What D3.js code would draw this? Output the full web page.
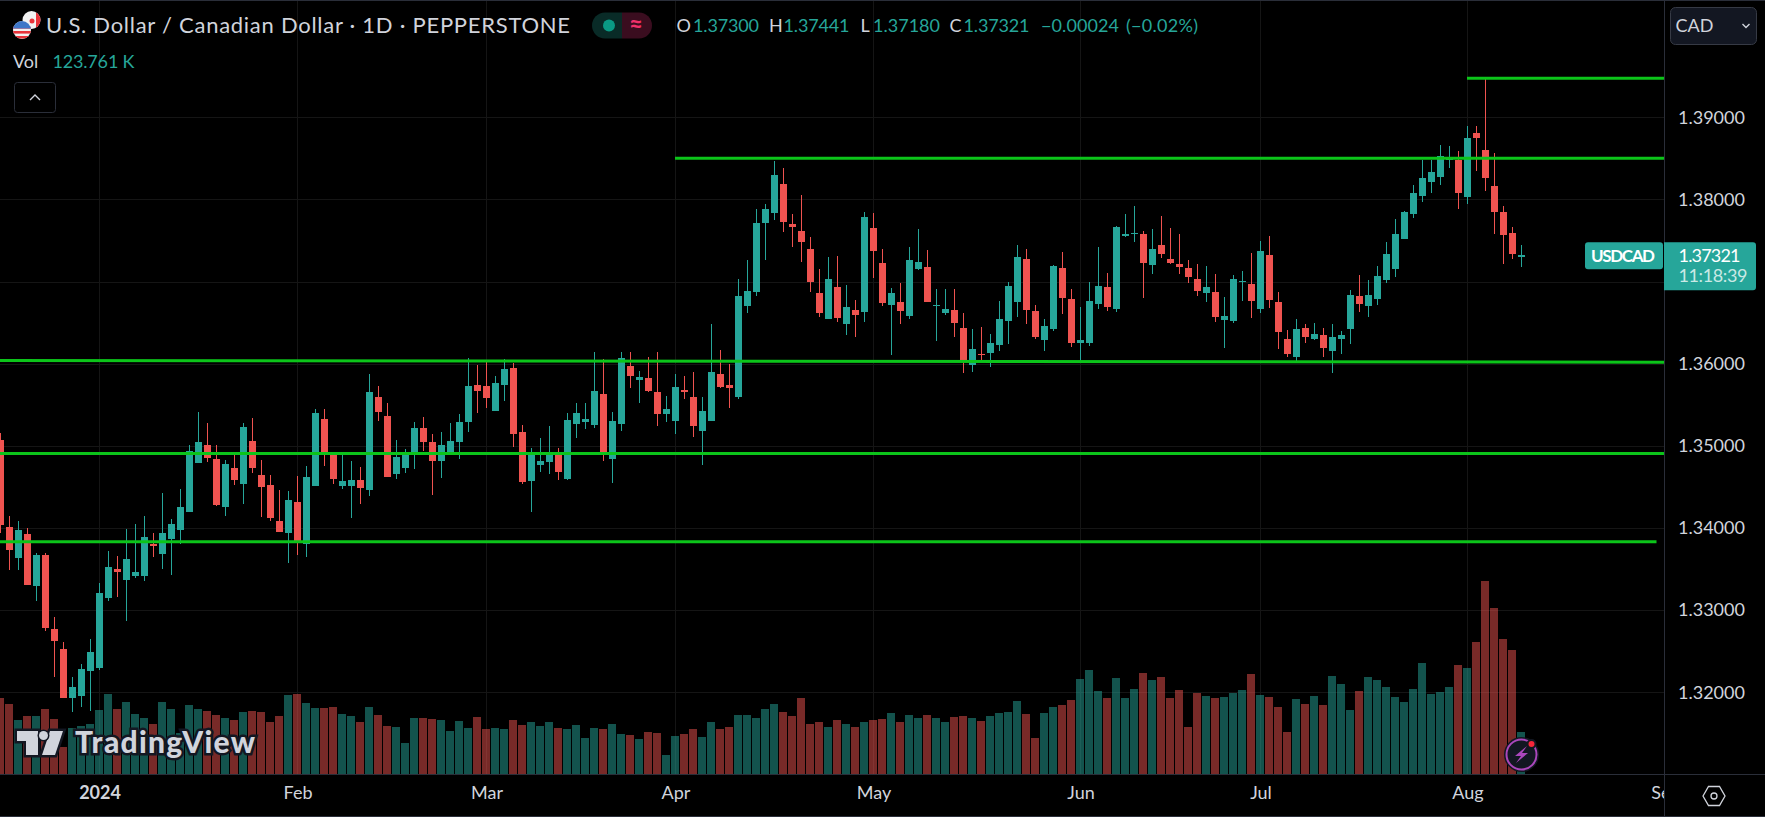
<!DOCTYPE html>
<html>
<head>
<meta charset="utf-8">
<script src="https://cdn.jsdelivr.net/npm/d3@7"></script>
<style>
  html, body { margin: 0; padding: 0; background: #000; overflow: hidden; }
  svg { display: block; }
  text { font-family: Lato, "Open Sans", sans-serif; }
</style>
</head>
<body>
<svg class="chart"></svg>
<script>
// Values, one entry per daily bar
const opens = [1.35077,1.34016,1.33638,1.33930,1.33296,1.33674,1.32772,1.32528,1.31930,1.31955,1.32260,1.32296,1.33150,1.33504,1.33369,1.33418,1.33418,1.33808,1.33686,1.33869,
  1.33979,1.34199,1.34796,1.35016,1.34845,1.34260,1.34735,1.34540,1.35065,1.34650,1.34528,1.34089,1.33943,1.34321,1.33808,1.34516,1.35333,1.34918,1.34516,1.34516,
  1.34589,1.34467,1.35601,1.35369,1.34662,1.34735,1.34894,1.35223,1.35052,1.34821,1.34894,1.35052,1.35296,1.35735,1.35723,1.35430,1.35747,1.35943,1.35174,1.34577,
  1.34772,1.34808,1.34906,1.34601,1.35272,1.35296,1.35260,1.35626,1.34845,1.35272,1.35967,1.35808,1.35821,1.35650,1.35382,1.35308,1.35686,1.35601,1.35186,1.35308,
  1.35869,1.35735,1.35601,1.36700,1.36870,1.37712,1.37834,1.38187,1.37700,1.37614,1.37395,1.36858,1.36541,1.36931,1.36480,1.36651,1.36626,1.37651,1.37224,1.36712,
  1.36748,1.36578,1.37151,1.37175,1.36700,1.36614,1.36651,1.36431,1.35980,1.36114,1.36126,1.36224,1.36517,1.36748,1.37273,1.36639,1.36285,1.36418,1.37162,1.36784,
  1.36247,1.36247,1.36723,1.36930,1.36662,1.37552,1.37577,1.37577,1.37199,1.37443,1.37272,1.37211,1.37162,1.37028,1.36857,1.36869,1.36528,1.36516,1.36991,1.36967,
  1.36662,1.37321,1.36748,1.36296,1.36077,1.36430,1.36296,1.36345,1.36150,1.36296,1.36418,1.36821,1.36699,1.36784,1.37016,1.37150,1.37516,1.37821,1.38040,1.38211,
  1.38272,1.38480,1.38480,1.38029,1.38809,1.38602,1.38163,1.37846,1.37590,1.37300];
const highs = [1.35162,1.34150,1.34089,1.34004,1.33699,1.33699,1.32918,1.32613,1.32186,1.32345,1.32650,1.33333,1.33723,1.33662,1.33991,1.34052,1.34150,1.33943,1.34430,1.34113,
  1.34479,1.35016,1.35418,1.35284,1.35016,1.34833,1.34918,1.35284,1.35345,1.34833,1.34650,1.34467,1.34455,1.34638,1.34760,1.35443,1.35443,1.34930,1.34930,1.34821,
  1.34747,1.35869,1.35723,1.35516,1.35077,1.34967,1.35296,1.35357,1.35150,1.35174,1.35284,1.35394,1.36065,1.35979,1.36016,1.35845,1.36052,1.36004,1.35260,1.34979,
  1.35101,1.35247,1.34979,1.35406,1.35516,1.35516,1.36138,1.36052,1.35418,1.36138,1.36138,1.35906,1.36077,1.36138,1.35613,1.35869,1.35845,1.35894,1.35589,1.36480,
  1.36162,1.35991,1.37028,1.37261,1.37882,1.37943,1.38468,1.38382,1.37822,1.38053,1.37541,1.37151,1.37297,1.37309,1.36956,1.36773,1.37846,1.37834,1.37395,1.36919,
  1.36980,1.37419,1.37639,1.37382,1.36907,1.36907,1.36907,1.36614,1.36419,1.36443,1.36358,1.36761,1.36992,1.37443,1.37395,1.36712,1.36541,1.37199,1.37357,1.36906,
  1.36687,1.36991,1.37418,1.37101,1.37674,1.37821,1.37918,1.37613,1.37638,1.37796,1.37650,1.37577,1.37260,1.37211,1.37187,1.37089,1.36808,1.37077,1.37126,1.37345,
  1.37491,1.37552,1.36869,1.36406,1.36540,1.36479,1.36491,1.36430,1.36479,1.36394,1.36894,1.37077,1.37016,1.37187,1.37479,1.37760,1.37857,1.38174,1.38479,1.38479,
  1.38662,1.38651,1.38590,1.38894,1.38894,1.39480,1.38565,1.37919,1.37663,1.37441];
const lows = [1.33943,1.33491,1.33491,1.33308,1.33113,1.32747,1.32186,1.31930,1.31760,1.31821,1.31772,1.32272,1.33113,1.33162,1.32869,1.33394,1.33357,1.33650,1.33504,1.33430,
  1.33808,1.34199,1.34796,1.34808,1.34272,1.34150,1.34528,1.34296,1.34674,1.34138,1.34089,1.33955,1.33577,1.33674,1.33650,1.34516,1.34760,1.34540,1.34479,1.34126,
  1.34296,1.34394,1.35308,1.34626,1.34601,1.34674,1.34723,1.34943,1.34406,1.34613,1.34894,1.34845,1.35174,1.35406,1.35455,1.35430,1.35552,1.34991,1.34540,1.34199,
  1.34686,1.34662,1.34589,1.34589,1.35101,1.35211,1.35223,1.34821,1.34552,1.35186,1.35699,1.35528,1.35650,1.35247,1.35296,1.35150,1.35565,1.35113,1.34772,1.35308,
  1.35699,1.35467,1.35565,1.36614,1.36822,1.37261,1.37748,1.37602,1.37419,1.37236,1.36870,1.36565,1.36541,1.36504,1.36346,1.36322,1.36504,1.37041,1.36700,1.36102,
  1.36480,1.36541,1.37139,1.36748,1.36273,1.36590,1.36322,1.35882,1.35895,1.36017,1.35956,1.36151,1.36236,1.36565,1.36480,1.36297,1.36151,1.36394,1.36601,1.36199,
  1.36028,1.36211,1.36662,1.36638,1.36626,1.37540,1.37479,1.36796,1.37089,1.37284,1.37211,1.37089,1.36979,1.36821,1.36748,1.36504,1.36187,1.36491,1.36760,1.36552,
  1.36613,1.36674,1.36174,1.36077,1.36028,1.36247,1.36284,1.36077,1.35882,1.36113,1.36235,1.36626,1.36565,1.36711,1.36979,1.37052,1.37516,1.37772,1.37967,1.38077,
  1.38174,1.38382,1.37882,1.37943,1.38346,1.38102,1.37577,1.37211,1.37272,1.37180];
const closes = [1.34040,1.33735,1.33979,1.33308,1.33674,1.32784,1.32626,1.31930,1.32065,1.32284,1.32491,1.33211,1.33528,1.33467,1.33626,1.33467,1.33894,1.33784,1.33943,1.34052,
  1.34260,1.34943,1.35052,1.34857,1.34284,1.34784,1.34589,1.35235,1.34735,1.34504,1.34126,1.33955,1.34345,1.33845,1.34626,1.35406,1.34906,1.34601,1.34577,1.34589,
  1.34491,1.35650,1.35418,1.34626,1.34869,1.34894,1.35223,1.35052,1.34821,1.35016,1.35065,1.35296,1.35723,1.35674,1.35577,1.35760,1.35930,1.35150,1.34565,1.34930,
  1.34821,1.34906,1.34686,1.35321,1.35406,1.35333,1.35662,1.34906,1.35308,1.36065,1.35845,1.35833,1.35662,1.35394,1.35443,1.35711,1.35650,1.35247,1.35430,1.35894,
  1.35711,1.35699,1.36821,1.36882,1.37712,1.37882,1.38297,1.37724,1.37663,1.37480,1.36992,1.36614,1.37028,1.36553,1.36687,1.36590,1.37785,1.37370,1.36736,1.36858,
  1.36639,1.37261,1.37236,1.36748,1.36712,1.36663,1.36492,1.36017,1.36175,1.36102,1.36248,1.36541,1.36943,1.37297,1.36651,1.36322,1.36456,1.37187,1.36796,1.36247,
  1.36284,1.36760,1.36943,1.36687,1.37662,1.37577,1.37589,1.37223,1.37394,1.37333,1.37223,1.37174,1.37052,1.36882,1.36930,1.36565,1.36577,1.37028,1.37004,1.36760,
  1.37369,1.36772,1.36382,1.36113,1.36418,1.36321,1.36357,1.36187,1.36321,1.36345,1.36833,1.36723,1.36833,1.37065,1.37333,1.37577,1.37845,1.38077,1.38260,1.38333,
  1.38528,1.38516,1.38077,1.38748,1.38748,1.38260,1.37846,1.37565,1.37333,1.37321];
// Volume in thousands
const volumes = [224,206,159,171,171,191,162,80,136,141,147,189,236,191,212,177,165,147,212,191,
  120,203,191,186,174,165,159,183,186,183,153,171,233,236,209,194,194,197,177,171,
  153,197,174,141,138,92,166,166,163,160,128,157,136,169,134,136,134,160,145,154,
  142,154,136,134,145,107,136,134,148,119,116,104,125,122,57,113,119,134,110,154,
  134,139,175,175,166,192,207,184,172,225,148,154,139,160,148,139,154,160,163,181,
  154,175,166,175,166,154,169,172,166,157,172,181,184,216,178,107,181,198,204,219,
  281,307,245,225,284,225,251,299,278,287,225,248,139,240,231,225,228,240,248,296,
  234,228,198,125,222,207,231,204,290,266,190,245,286,277,256,227,212,250,327,236,
  242,256,321,312,389,569,489,398,365,123.761];

const priceTicks = [1.32, 1.33, 1.34, 1.35, 1.36, 1.37, 1.38, 1.39];
// 1.37000 sits behind the last price tag, so it gets a grid line but no label
const priceLabels = [1.32, 1.33, 1.34, 1.35, 1.36, 1.38, 1.39];
const timeTickBars = [11, 33, 54, 75, 97, 120, 140, 163, 185];
const timeTickLabels = ['2024', 'Feb', 'Mar', 'Apr', 'May', 'Jun', 'Jul', 'Aug', 'Sep'];

// Horizontal levels: first bar, first price, last bar, last price
const levelStartBars = [0, 0, 0, 75, 163];
const levelEndBars = [185, 185, 184, 185, 185];
const levelStartPrices = [1.36038, 1.34906, 1.33833, 1.38501, 1.39475];
const levelEndPrices = [1.36018, 1.34906, 1.33833, 1.38501, 1.39475];

const lastPrice = closes[closes.length - 1];

const width = 1765;
const height = 817;
const axisX = 1664;
const axisY = 774;

const green = '#26a69a';
const red = '#ef5350';
const textColor = '#d1d4dc';
const borderColor = '#2a2e39';
const gridColor = '#151515';

const svg = d3.select('.chart')
    .attr('width', width)
    .attr('height', height);

svg.append('rect').attr('width', width).attr('height', height).attr('fill', '#000');

svg.append('defs').append('clipPath').attr('id', 'pane')
    .append('rect').attr('width', axisX).attr('height', axisY);
svg.select('defs').append('clipPath').attr('id', 'time-pane')
    .append('rect').attr('width', axisX).attr('height', height);
svg.select('defs').append('clipPath').attr('id', 'flag-ca')
    .append('circle').attr('cx', 31.5).attr('cy', 20).attr('r', 9);
svg.select('defs').append('clipPath').attr('id', 'flag-us')
    .append('circle').attr('cx', 22).attr('cy', 30).attr('r', 9);

// Scales

const x = d3.scaleLinear()
    .domain([0, 169])
    .range([0.5, 1521.5]);

const y = d3.scaleLinear()
    .domain([1.32, 1.39])
    .range([692.3, 117.3]);

const yVolume = d3.scaleLinear()
    .domain([0, 600])
    .range([axisY, axisY - 203.6]);

const bars = d3.range(closes.length);
const isUp = i => closes[i] >= opens[i];
const barColor = i => isUp(i) ? green : red;

const pane = svg.append('g').attr('clip-path', 'url(#pane)');

// Grid

pane.append('g').selectAll('line')
    .data(priceTicks).enter().append('line')
    .attr('x1', 0)
    .attr('x2', axisX)
    .attr('y1', d => Math.round(y(d)) + 0.5)
    .attr('y2', d => Math.round(y(d)) + 0.5)
    .attr('stroke', gridColor);

pane.append('g').selectAll('line')
    .data(timeTickBars).enter().append('line')
    .attr('x1', d => x(d))
    .attr('x2', d => x(d))
    .attr('y1', 0)
    .attr('y2', axisY)
    .attr('stroke', gridColor);

// Volume

pane.append('g').selectAll('rect')
    .data(bars).enter().append('rect')
    .attr('x', i => x(i) - 4.5)
    .attr('y', i => yVolume(volumes[i]))
    .attr('width', 8)
    .attr('height', i => axisY - yVolume(volumes[i]))
    .attr('fill', barColor)
    .attr('fill-opacity', 0.5)
    .attr('shape-rendering', 'crispEdges');

// Candles

pane.append('g').selectAll('rect')
    .data(bars).enter().append('rect')
    .attr('x', i => x(i) - 0.5)
    .attr('y', i => y(highs[i]))
    .attr('width', 1)
    .attr('height', i => y(lows[i]) - y(highs[i]))
    .attr('fill', barColor)
    .attr('shape-rendering', 'crispEdges');

pane.append('g').selectAll('rect')
    .data(bars).enter().append('rect')
    .attr('x', i => x(i) - 3.5)
    .attr('y', i => y(Math.max(opens[i], closes[i])))
    .attr('width', 7)
    .attr('height', i => Math.max(1, Math.abs(y(opens[i]) - y(closes[i]))))
    .attr('fill', barColor)
    .attr('shape-rendering', 'crispEdges');

// Levels

pane.append('g').selectAll('line')
    .data(levelStartBars).enter().append('line')
    .attr('x1', (d, i) => x(d) - 0.5)
    .attr('x2', (d, i) => x(levelEndBars[i]))
    .attr('y1', (d, i) => y(levelStartPrices[i]))
    .attr('y2', (d, i) => y(levelEndPrices[i]))
    .attr('stroke', '#0cc41a')
    .attr('stroke-width', 3);

// Axis lines and frame

svg.append('line').attr('x1', 0).attr('x2', width).attr('y1', axisY + 0.5).attr('y2', axisY + 0.5).attr('stroke', borderColor);
svg.append('line').attr('x1', axisX + 0.5).attr('x2', axisX + 0.5).attr('y1', 0).attr('y2', height).attr('stroke', borderColor);
svg.append('rect').attr('width', width).attr('height', 1).attr('fill', borderColor);
svg.append('rect').attr('y', height - 1).attr('width', width).attr('height', 1).attr('fill', borderColor);

// X and Y axis

const yAxis = d3.axisRight(y)
    .tickValues(priceLabels)
    .tickFormat(d3.format('.5f'))
    .tickSize(0)
    .tickPadding(14);

const yAxisG = svg.append('g')
    .attr('transform', `translate(${axisX},0)`)
    .call(yAxis);
yAxisG.select('.domain').remove();
yAxisG.selectAll('text')
    .attr('fill', textColor)
    .attr('font-size', 18)
    .style('font-family', 'Lato, sans-serif');

const xAxis = d3.axisBottom(x)
    .tickValues(timeTickBars)
    .tickFormat((d, i) => timeTickLabels[i])
    .tickSize(0)
    .tickPadding(12);

const xAxisG = svg.append('g')
    .attr('clip-path', 'url(#time-pane)')
    .append('g')
    .attr('transform', `translate(0,${axisY})`)
    .call(xAxis);
xAxisG.select('.domain').remove();
xAxisG.selectAll('text')
    .attr('fill', textColor)
    .attr('font-size', 18)
    .attr('font-weight', (d, i) => i === 0 ? 700 : 400)
    .style('font-family', 'Lato, sans-serif');

// Legend

function label(txt, px, py, size, fill, weight) {
    return svg.append('text')
        .attr('x', px)
        .attr('y', py)
        .attr('font-size', size)
        .attr('fill', fill)
        .attr('font-weight', weight || 400)
        .text(txt);
}

// flags
const ca = svg.append('g').attr('clip-path', 'url(#flag-ca)');
ca.append('rect').attr('x', 22).attr('y', 10).attr('width', 20).attr('height', 20).attr('fill', '#f2f2f2');
ca.append('rect').attr('x', 36).attr('y', 10).attr('width', 6).attr('height', 20).attr('fill', '#e8333a');
ca.append('circle').attr('cx', 32).attr('cy', 21).attr('r', 2.5).attr('fill', '#e8333a');
const us = svg.append('g').attr('clip-path', 'url(#flag-us)');
us.append('rect').attr('x', 12).attr('y', 20).attr('width', 20).attr('height', 20).attr('fill', '#f2f2f2');
us.selectAll('.stripe').data([26, 31, 36]).enter().append('rect')
    .attr('x', 12).attr('y', d => d).attr('width', 20).attr('height', 2.6).attr('fill', '#e8333a');
us.append('rect').attr('x', 12).attr('y', 20).attr('width', 20).attr('height', 8.5).attr('fill', '#3e76c8');

label('U.S. Dollar / Canadian Dollar · 1D · PEPPERSTONE', 46, 33, 22, textColor).attr('textLength', 524);

svg.append('path').attr('d', 'M605,12.5 H622 V38.5 H605 A13,13 0 0 1 605,12.5 Z').attr('fill', '#092b27');
svg.append('path').attr('d', 'M622,12.5 H639 A13,13 0 0 1 639,38.5 H622 Z').attr('fill', '#3a0d1f');
svg.append('circle').attr('cx', 609).attr('cy', 25.5).attr('r', 6).attr('fill', '#0a9a84');
label('≈', 629, 33, 24, '#f0306a', 700);

label('O', 676.5, 32, 18, textColor);
label(opens[169].toFixed(5), 693, 32, 18, green).attr('textLength', 66);
label('H', 769, 32, 18, textColor);
label(highs[169].toFixed(5), 783.5, 32, 18, green).attr('textLength', 66);
label('L', 860.5, 32, 18, textColor);
label(lows[169].toFixed(5), 873, 32, 18, green).attr('textLength', 67);
label('C', 949.5, 32, 18, textColor);
label(closes[169].toFixed(5), 963.5, 32, 18, green).attr('textLength', 66);
label('−0.00024', 1041, 32, 18, green).attr('textLength', 78);
label('(−0.02%)', 1126, 32, 18, green).attr('textLength', 72);

label('Vol', 13, 67.5, 18, textColor);
label('123.761 K', 52.5, 67.5, 18, green).attr('textLength', 82);

svg.append('rect').attr('x', 14.5).attr('y', 82.5).attr('width', 41).attr('height', 30).attr('rx', 3)
    .attr('fill', '#000').attr('stroke', borderColor);
svg.append('path').attr('d', 'M30,100 L35,95 L40,100').attr('fill', 'none').attr('stroke', textColor).attr('stroke-width', 1.4);

// Currency button

svg.append('rect').attr('x', 1670.5).attr('y', 7.5).attr('width', 86).attr('height', 37).attr('rx', 5)
    .attr('fill', '#131722').attr('stroke', '#363a45');
label('CAD', 1675.5, 32, 18, textColor);
svg.append('path').attr('d', 'M1742.5,24 L1746,27.5 L1749.5,24').attr('fill', 'none').attr('stroke', textColor).attr('stroke-width', 1.4);

// Last price tags

const tagY = y(lastPrice);
svg.append('rect').attr('x', 1585).attr('y', tagY - 13).attr('width', 78).attr('height', 27).attr('rx', 3).attr('fill', green);
svg.append('path').attr('d', `M1664,${tagY - 13} H1753 a3,3 0 0 1 3,3 V${tagY + 32} a3,3 0 0 1 -3,3 H1664 Z`).attr('fill', green);
label('USDCAD', 1591, tagY + 6.5, 17, '#fff', 700).attr('textLength', 64);
label(lastPrice.toFixed(5), 1678.5, tagY + 6.5, 18, '#fff').attr('textLength', 62);
label('11:18:39', 1678.5, tagY + 27, 18, '#c9e9e5').attr('textLength', 69);

// Settings icon

svg.append('path').attr('d', 'M1703,796 L1708.5,786.5 H1719.5 L1725,796 L1719.5,805.5 H1708.5 Z')
    .attr('fill', 'none').attr('stroke', textColor).attr('stroke-width', 1.3);
svg.append('circle').attr('cx', 1714).attr('cy', 796).attr('r', 3).attr('fill', 'none').attr('stroke', textColor).attr('stroke-width', 1.3);

// Watermark

const mark = svg.append('g');
mark.append('path')
    .attr('d', 'M17,731 H38 V755 H26 V741 H17 Z M50,731 H63 L55,755 H42 Z')
    .attr('fill', textColor)
    .attr('stroke', '#131722')
    .attr('stroke-width', 5)
    .attr('paint-order', 'stroke');
mark.append('circle').attr('cx', 43.5).attr('cy', 735.5).attr('r', 4.5).attr('fill', textColor)
    .attr('stroke', '#131722').attr('stroke-width', 3).attr('paint-order', 'stroke');
mark.append('text')
    .attr('x', 75)
    .attr('y', 753)
    .attr('font-size', 30)
    .attr('font-weight', 900)
    .attr('fill', textColor)
    .attr('stroke', '#131722')
    .attr('stroke-width', 5)
    .attr('paint-order', 'stroke')
    .attr('textLength', 180)
    .text('TradingView');

// Lightning badge

svg.append('circle').attr('cx', 1521.5).attr('cy', 754.5).attr('r', 17.5).attr('fill', '#131722');
svg.append('circle').attr('cx', 1521.5).attr('cy', 754.5).attr('r', 15)
    .attr('fill', '#131722').attr('stroke', '#ab47bc').attr('stroke-width', 2);
svg.append('path').attr('d', 'M1527,746 L1515,756 H1521 L1516,763 L1528,753 H1522 Z').attr('fill', '#ab47bc');
svg.append('circle').attr('cx', 1531.5).attr('cy', 744).attr('r', 4).attr('fill', '#f7263a')
    .attr('stroke', '#131722').attr('stroke-width', 2);
</script>
</body>
</html>
